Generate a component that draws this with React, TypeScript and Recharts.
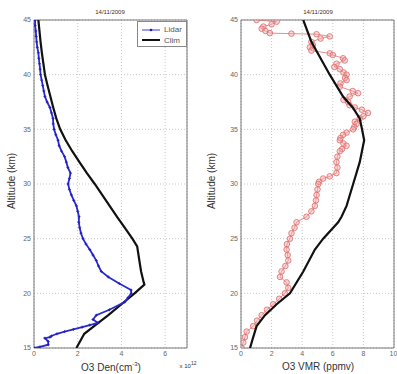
import React from 'react';
import { ScatterChart, Scatter, XAxis, YAxis, CartesianGrid, ReferenceArea } from 'recharts';

// altitude (km) / ozone number density (x1e12 cm^-3)
const denLidarAlt = [45, 44.5, 44, 43.5, 43, 42.5, 42, 41.5, 41, 40.5, 40, 39.5, 39, 38.5, 38, 37.5, 37, 36.5, 36, 35.5, 35, 34.5, 34, 33.5, 33, 32.5, 32, 31.5, 31, 30.5, 30, 29.5, 29, 28.5, 28, 27.5, 27, 26.5, 26, 25.5, 25, 24.5, 24, 23.5, 23, 22.5, 22, 21.5, 20.9, 20.3, 20, 19.6, 19.2, 18.5, 18, 17.6, 17.3, 17.1, 16.9, 16.7, 16.5, 16.3, 16.1, 16, 15.9, 15.6, 15.3, 15.1, 15];
const denLidar = [0.05, 0.05, 0.08, 0.1, 0.12, 0.15, 0.2, 0.22, 0.25, 0.28, 0.3, 0.35, 0.4, 0.45, 0.5, 0.6, 0.73, 0.8, 0.87, 0.88, 0.92, 1.0, 1.1, 1.15, 1.26, 1.4, 1.48, 1.55, 1.67, 1.62, 1.56, 1.62, 1.71, 1.82, 1.94, 2.0, 2.06, 2.05, 2.09, 2.15, 2.24, 2.38, 2.55, 2.7, 2.85, 2.95, 3.08, 3.4, 3.9, 4.44, 4.45, 4.3, 4.15, 3.45, 2.85, 2.7, 2.92, 2.55, 2.2, 1.8, 1.4, 1.05, 0.8, 0.73, 0.5, 0.65, 0.65, 0.27, 0.02];
const denClimAlt = [45, 44, 43, 42, 41, 40, 39, 38, 37, 36, 35, 34, 33, 32, 31, 30, 29, 28, 27, 26, 25, 24.3, 23, 22, 21, 20.8, 20, 19, 18, 17, 16.3, 15];
const denClim = [0.2, 0.25, 0.3, 0.36, 0.43, 0.5, 0.62, 0.75, 0.88, 1.02, 1.2, 1.45, 1.75, 2.08, 2.42, 2.78, 3.12, 3.46, 3.8, 4.15, 4.5, 4.72, 4.82, 4.9, 5.02, 5.05, 4.6, 4.0, 3.4, 2.75, 2.3, 1.94];

// altitude (km) / ozone volume mixing ratio (ppmv)
const vmrLidarAlt = [45, 44.85, 44.6, 44.4, 44.2, 44, 43.8, 43.75, 43.7, 43.5, 43.3, 43, 42.7, 42.5, 42.2, 41.95, 41.8, 41.5, 41.3, 41, 40.7, 40.5, 40.2, 40, 39.7, 39.5, 39.2, 38.9, 38.5, 38.3, 38, 37.7, 37.5, 37.2, 37, 36.8, 36.5, 36.2, 36, 35.7, 35.5, 35.2, 35, 34.7, 34.5, 34.2, 34, 33.7, 33.5, 33.2, 33, 32.5, 32, 31.5, 31, 30.7, 30.5, 30.2, 30, 29.5, 29, 28.5, 28, 27.5, 27, 26.5, 26, 25.5, 25, 24.5, 24, 23.5, 23, 22.5, 22, 21.5, 21, 20.5, 20, 19.5, 19, 18.5, 18, 17.5, 17, 16.5, 16, 15.5, 15];
const vmrLidar = [1.02, 2.33, 2.0, 1.46, 1.35, 1.6, 1.89, 3.3, 4.94, 5.8, 5.2, 4.6, 4.7, 4.5, 4.6, 5.8, 6.0, 6.67, 6.78, 6.24, 6.1, 6.46, 6.7, 6.9, 6.8, 6.9, 6.5, 6.46, 7.3, 7.65, 7.1, 6.7, 7.0, 7.1, 7.44, 7.9, 8.3, 8.0, 7.76, 7.44, 7.55, 7.4, 7.33, 6.9, 6.67, 6.5, 6.46, 6.7, 6.9, 6.6, 6.46, 6.3, 6.24, 6.3, 6.24, 5.8, 5.37, 5.1, 5.05, 5.0, 4.94, 4.9, 4.83, 4.6, 4.28, 3.63, 3.5, 3.3, 3.2, 3.0, 2.98, 3.05, 3.09, 2.9, 2.65, 2.55, 2.98, 3.09, 2.87, 2.5, 2.1, 1.7, 1.35, 1.05, 0.8, 0.37, 0.26, 0.15, 0.04];
const vmrClimAlt = [45, 43, 40, 38, 37, 36, 35, 34, 32, 30, 28, 27, 26.5, 25, 24, 22, 20, 19, 18, 17, 16, 15];
const vmrClim = [4.07, 4.6, 5.8, 6.67, 7.3, 7.76, 7.91, 8.05, 7.76, 7.33, 6.9, 6.57, 6.35, 5.37, 4.83, 4.07, 3.2, 2.33, 1.57, 1.02, 0.8, 0.59];

const altTicks = [15, 20, 25, 30, 35, 40, 45];
const denTicks = [0, 2, 4, 6];
const vmrTicks = [0, 2, 4, 6, 8, 10];
const title = '14/11/2009';

const pts = (alt: number[], v: number[]) => alt.map((a, i) => ({ alt: a, v: v[i] }));

const FONT = '"Liberation Sans", Arial, sans-serif';
const tickStyle = { fontSize: 7, fill: '#666', fontFamily: FONT };

const NoDot = () => <g />;
const BlueDot = (p: any) => (
  <g>
    <line x1={p.cx - 1.5} x2={p.cx + 1.5} y1={p.cy} y2={p.cy} stroke="#1a1ac0" strokeWidth={0.8} />
    <line x1={p.cx} x2={p.cx} y1={p.cy - 1.5} y2={p.cy + 1.5} stroke="#1a1ac0" strokeWidth={0.8} />
  </g>
);
const RedDot = (p: any) => (
  <circle cx={p.cx} cy={p.cy} r={2.8} fill="rgba(240,170,170,0.45)" stroke="#e06868" strokeWidth={0.8} />
);

const LegendBox = () => (
  <div style={{ position: 'absolute', left: 137, top: 21, border: '1px solid #888', background: '#fff', width: 50, height: 26, fontFamily: FONT, fontSize: 8, color: '#555', boxSizing: 'border-box', padding: '2px 3px' }}>
    <div style={{ display: 'flex', alignItems: 'center', height: 11 }}>
      <svg width={20} height={6}><line x1={1} x2={19} y1={3} y2={3} stroke="#3a3ad0" strokeWidth={1} /><circle cx={10} cy={3} r={1.3} fill="#1a1ac0" /></svg>
      <span style={{ marginLeft: 3 }}>Lidar</span>
    </div>
    <div style={{ display: 'flex', alignItems: 'center', height: 10 }}>
      <svg width={20} height={6}><line x1={1} x2={19} y1={3} y2={3} stroke="#111" strokeWidth={2} /></svg>
      <span style={{ marginLeft: 3 }}>Clim</span>
    </div>
  </div>
);

const Txt: React.FC<{ x: number; y: number; size: number; rotate?: boolean; children: React.ReactNode }> = ({ x, y, size, rotate, children }) => (
  <div style={{ position: 'absolute', left: x, top: y, transform: `translate(-50%, -50%)${rotate ? ' rotate(-90deg)' : ''}`, fontSize: size, fontFamily: FONT, color: '#333', whiteSpace: 'nowrap', lineHeight: 1 }}>
    {children}
  </div>
);

export default function App() {
  return (
    <div style={{ position: 'absolute', left: 0, top: 0, width: 397, height: 374, background: '#fff', overflow: 'hidden' }}>
      <div style={{ position: 'absolute', left: 0, top: 0 }}>
        <ScatterChart width={200} height={374} margin={{ top: 20, right: 13, bottom: 0, left: 0 }}>
          <CartesianGrid stroke="#c8c8c8" strokeDasharray="1 2" />
          <XAxis type="number" dataKey="v" domain={[0, 7]} ticks={denTicks} height={26} axisLine={false} tickLine={false} tick={tickStyle} tickSize={2} tickMargin={1} allowDataOverflow />
          <YAxis type="number" dataKey="alt" domain={[15, 45]} ticks={altTicks} width={34} axisLine={false} tickLine={false} tick={tickStyle} tickSize={3} tickMargin={0} allowDataOverflow />
          <ReferenceArea x1={0} x2={7} y1={15} y2={45} fill="none" stroke="#555" strokeWidth={0.8} />
          <Scatter name="Clim" data={pts(denClimAlt, denClim)} line={{ stroke: '#111', strokeWidth: 2.2 }} shape={NoDot} isAnimationActive={false} />
          <Scatter name="Lidar" data={pts(denLidarAlt, denLidar)} line={{ stroke: '#2a2ad0', strokeWidth: 1.8 }} shape={BlueDot} isAnimationActive={false} />
        </ScatterChart>
      </div>
      <div style={{ position: 'absolute', left: 200, top: 0 }}>
        <ScatterChart width={197} height={374} margin={{ top: 20, right: 3, bottom: 0, left: 0 }}>
          <CartesianGrid stroke="#c8c8c8" strokeDasharray="1 2" />
          <XAxis type="number" dataKey="v" domain={[0, 10]} ticks={vmrTicks} height={26} axisLine={false} tickLine={false} tick={tickStyle} tickSize={2} tickMargin={1} allowDataOverflow />
          <YAxis type="number" dataKey="alt" domain={[15, 45]} ticks={altTicks} width={41} axisLine={false} tickLine={false} tick={tickStyle} tickSize={3} tickMargin={0} allowDataOverflow />
          <ReferenceArea x1={0} x2={10} y1={15} y2={45} fill="none" stroke="#555" strokeWidth={0.8} />
          <Scatter name="Lidar" data={pts(vmrLidarAlt, vmrLidar)} line={{ stroke: '#e07070', strokeWidth: 0.8 }} shape={RedDot} isAnimationActive={false} />
          <Scatter name="Clim" data={pts(vmrClimAlt, vmrClim)} line={{ stroke: '#111', strokeWidth: 2.2 }} shape={NoDot} isAnimationActive={false} />
        </ScatterChart>
      </div>
      <LegendBox />
      <Txt x={110} y={12} size={6}>{title}</Txt>
      <Txt x={318} y={12} size={6}>{title}</Txt>
      <Txt x={12} y={181} size={10} rotate>Altitude (km)</Txt>
      <Txt x={212} y={181} size={10} rotate>Altitude (km)</Txt>
      <Txt x={111} y={367} size={10}>O3 Den(cm<sup style={{ fontSize: 6 }}>-3</sup>)</Txt>
      <Txt x={188} y={365} size={6}>x 10<sup style={{ fontSize: 5 }}>12</sup></Txt>
      <Txt x={318} y={367} size={10}>O3 VMR (ppmv)</Txt>
    </div>
  );
}
